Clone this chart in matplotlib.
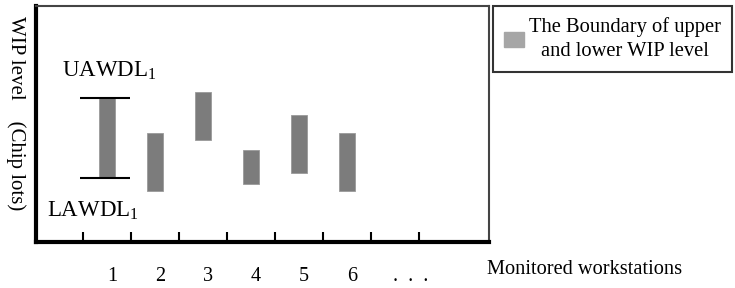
import matplotlib
matplotlib.use("Agg")
import matplotlib.pyplot as plt
from matplotlib.patches import Patch
import numpy as np

# Data
categories = ["1", "2", "3", "4", "5", "6", ".  .  ."]
upper = [61.0, 46.2, 63.6, 39.0, 53.8, 46.2]
lower = [27.1, 21.6, 43.2, 24.6, 29.2, 21.6]
ylabel = "WIP level    (Chip lots)"
xlabel = "Monitored workstations"
legend_label = "The Boundary of upper\nand lower WIP level"

plt.rcParams['font.family'] = ['Liberation Serif', 'DejaVu Serif']

fig = plt.figure(figsize=(7.35, 2.88), dpi=100)
ax = fig.add_axes([36/735, 46/288, 453/735, 236/288])

pos = np.arange(1, len(upper) + 1)
heights = [u - l for u, l in zip(upper, lower)]
ax.bar(pos, heights, bottom=lower, width=0.35, color="#7c7c7c",
       edgecolor="#9a9a9a", linewidth=0.6, zorder=2)

# whiskers for workstation 1
ax.hlines([upper[0], lower[0]], pos[0] - 0.56, pos[0] + 0.48, color="black", lw=1.5, zorder=3)
ax.text(pos[0] + 0.04, upper[0] + 7, r"UAWDL$_\mathregular{1}$", ha="center", va="bottom", fontsize=16.5)
ax.text(pos[0] - 0.3, lower[0] - 9, r"LAWDL$_\mathregular{1}$", ha="center", va="top", fontsize=16.5)

ax.set_xlim(-0.48, 8.96)
ax.set_ylim(0, 100)

# major ticks at boundaries (inward, no labels); minor ticks for labels
ax.set_xticks(np.arange(0.5, 8.0, 1.0))
ax.set_xticklabels([])
ax.tick_params(axis="x", which="major", direction="in", length=7, width=1.5, color="black")
label_pos = np.arange(1, len(categories) + 1) + 0.1
label_pos[-1] += 0.23
ax.set_xticks(label_pos, minor=True)
ax.set_xticklabels(categories, minor=True, fontsize=14.5)
ax.tick_params(axis="x", which="minor", length=0, pad=18)
ax.set_yticks([])

for s in ["left", "bottom"]:
    ax.spines[s].set_linewidth(3)
    ax.spines[s].set_color("black")
for s in ["top", "right"]:
    ax.spines[s].set_linewidth(1.5)
    ax.spines[s].set_color("#444444")

fig.text(16/735, 1 - 113/288, ylabel, rotation=-90, ha="center", va="center", fontsize=15)
fig.text(487/735, 1 - 270/288, xlabel, ha="left", va="center", fontsize=14.7)

leg = fig.legend(handles=[Patch(facecolor="#a6a6a6", edgecolor="#a6a6a6")],
                 labels=[legend_label], loc="upper left",
                 bbox_to_anchor=(493/735, 1 - 6/288), borderaxespad=0,
                 fontsize=14.8, frameon=True, fancybox=False,
                 handlelength=0.95, handleheight=0.75, handletextpad=0.25,
                 borderpad=0.55)
leg.get_frame().set_edgecolor("black")
leg.get_frame().set_linewidth(1.5)
for t in leg.get_texts():
    t.set_multialignment("center")
    t.set_linespacing(1.35)

fig.savefig("out.png", dpi=100)
